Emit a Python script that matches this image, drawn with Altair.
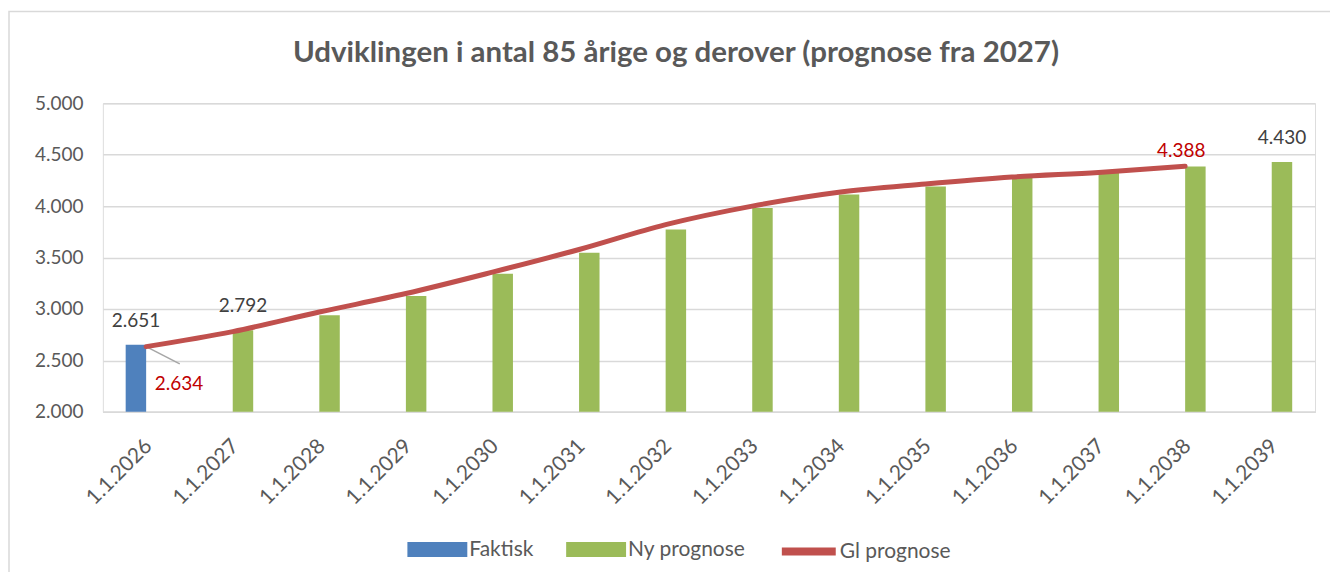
import altair as alt
import pandas as pd

dates = ["1.1.2026", "1.1.2027", "1.1.2028", "1.1.2029", "1.1.2030", "1.1.2031", "1.1.2032",
         "1.1.2033", "1.1.2034", "1.1.2035", "1.1.2036", "1.1.2037", "1.1.2038", "1.1.2039"]
faktisk = [2651, None, None, None, None, None, None, None, None, None, None, None, None, None]
ny_prognose = [None, 2792, 2938, 3125, 3342, 3546, 3772, 3983, 4112, 4192, 4274, 4322, 4386, 4430]
gl_prognose = [2634, 2780, 2970, 3150, 3358, 3578, 3820, 4000, 4135, 4215, 4283, 4328, 4388, None]
series = ["Faktisk", "Ny prognose"]
slots = ["_gap_left", "Faktisk", "Ny prognose", "_gap_right"]
y_ticks = [2000, 2500, 3000, 3500, 4000, 4500, 5000]
title_text = "Udviklingen i antal 85 årige og derover (prognose fra 2027)"

FONT = "Lato"
GREY = "#595959"
BLUE = "#4F81BD"
GREEN = "#9BBB59"
RED = "#C0504D"
LABEL_RED = "#C00000"

rows = []
for d, f, n in zip(dates, faktisk, ny_prognose):
    if f is not None:
        rows.append({"date": d, "value": f, "serie": "Faktisk"})
    if n is not None:
        rows.append({"date": d, "value": n, "serie": "Ny prognose"})
bars_df = pd.DataFrame(rows)
line_df = pd.DataFrame([{"date": d, "value": g, "serie": "Gl prognose"}
                        for d, g in zip(dates, gl_prognose) if g is not None])

def dk(v):
    return f"{v:,}".replace(",", ".")

W, H = 1214, 309

x_enc = alt.X("date:N", sort=dates, scale=alt.Scale(domain=dates, paddingInner=0, paddingOuter=0),
              axis=alt.Axis(title=None, labelAngle=-45, labelFontSize=21, labelColor=GREY, labelFont=FONT,
                            ticks=False, domain=True, domainColor="#D9D9D9", domainWidth=1.5,
                            labelPadding=23, labelOffset=-5, grid=False, labelLimit=300,
                            labelOverlap=False))
x_plain = alt.X("date:N", sort=dates)
xoff = alt.XOffset("serie:N", scale=alt.Scale(domain=slots, paddingInner=0, paddingOuter=0.115))
y_scale = alt.Scale(domain=[2000, 5000], nice=False, zero=False)
y_enc = alt.Y("value:Q", scale=y_scale,
              axis=alt.Axis(title=None, values=y_ticks, labelFontSize=19, labelColor=GREY, labelFont=FONT,
                            ticks=False, domain=False, grid=True, gridColor="#D9D9D9", gridWidth=1.5,
                            labelPadding=20,
                            labelExpr="replace(format(datum.value, ','), ',', '.')"))
y_plain = alt.Y("value:Q", scale=y_scale)

border = alt.Chart(pd.DataFrame({"a": [0]})).mark_rect(
    fill=None, stroke="#D9D9D9", strokeWidth=1.5
).encode(x=alt.value(-94), x2=alt.value(W + 60), y=alt.value(-92), y2=alt.value(H + 220))

title = alt.Chart(pd.DataFrame({"t": [title_text]})).mark_text(
    font=FONT, fontSize=29.5, fontWeight="bold", color=GREY, baseline="alphabetic", align="center"
).encode(x=alt.value(574), y=alt.value(-41), text="t:N")

bars = alt.Chart(bars_df).mark_bar().encode(
    x=x_enc, xOffset=xoff, y=y_enc, y2=alt.datum(2000),
    color=alt.Color("serie:N", scale=alt.Scale(domain=series, range=[BLUE, GREEN]),
                    legend=alt.Legend(title=None, orient="none", direction="horizontal",
                                      legendX=305, legendY=417, symbolType="M-1,-0.25H1V0.25H-1Z",
                                      symbolSize=3600, symbolStrokeWidth=0, labelFontSize=21,
                                      labelColor=GREY, labelFont=FONT, labelOffset=2, columnPadding=32))
)

line = alt.Chart(line_df).mark_line(interpolate="monotone", strokeWidth=5, strokeCap="round").encode(
    x=x_plain, y=y_plain,
    stroke=alt.Stroke("serie:N", scale=alt.Scale(domain=["Gl prognose"], range=[RED]),
                      legend=alt.Legend(title=None, orient="none", direction="horizontal",
                                        legendX=676, legendY=418, symbolType="stroke",
                                        symbolSize=2916, symbolStrokeWidth=8, labelFontSize=21,
                                        labelColor=GREY, labelFont=FONT, labelOffset=0))
)

black_lab = pd.DataFrame([
    {"date": dates[0], "value": faktisk[0], "serie": "Faktisk", "txt": dk(faktisk[0])},
    {"date": dates[1], "value": ny_prognose[1], "serie": "Ny prognose", "txt": dk(ny_prognose[1])},
    {"date": dates[13], "value": ny_prognose[13], "serie": "Ny prognose", "txt": dk(ny_prognose[13])},
])
black_text = alt.Chart(black_lab).mark_text(
    fontSize=19, font=FONT, color="#404040", baseline="alphabetic", dy=-18
).encode(x=x_plain, xOffset=xoff, y=y_plain, text="txt:N")

red_end = pd.DataFrame([{"date": dates[12], "value": gl_prognose[12], "txt": dk(gl_prognose[12])}])
red_end_text = alt.Chart(red_end).mark_text(
    fontSize=19, font=FONT, color=LABEL_RED, baseline="alphabetic", dy=-9, dx=-4
).encode(x=x_plain, y=y_plain, text="txt:N")

red_start = pd.DataFrame([{"date": dates[0], "value": gl_prognose[0], "txt": dk(gl_prognose[0])}])
red_start_text = alt.Chart(red_start).mark_text(
    fontSize=19, font=FONT, color=LABEL_RED, baseline="alphabetic", dy=43, dx=33
).encode(x=x_plain, y=y_plain, text="txt:N")

leader = alt.Chart(red_start).mark_rule(color="#A6A6A6", strokeWidth=1.5).encode(
    x=x_plain, y=y_plain, x2=alt.value(77), y2=alt.value(261)
)

chart = alt.layer(border, title, bars, leader, line, black_text, red_end_text, red_start_text).properties(
    width=W, height=H,
    autosize=alt.AutoSizeParams(type="none"),
    padding={"left": 95, "top": 95, "right": 15, "bottom": 160},
).configure_view(stroke=None).configure(background="white")

chart.save("out.html", embed_options={"renderer": "svg", "actions": False})
